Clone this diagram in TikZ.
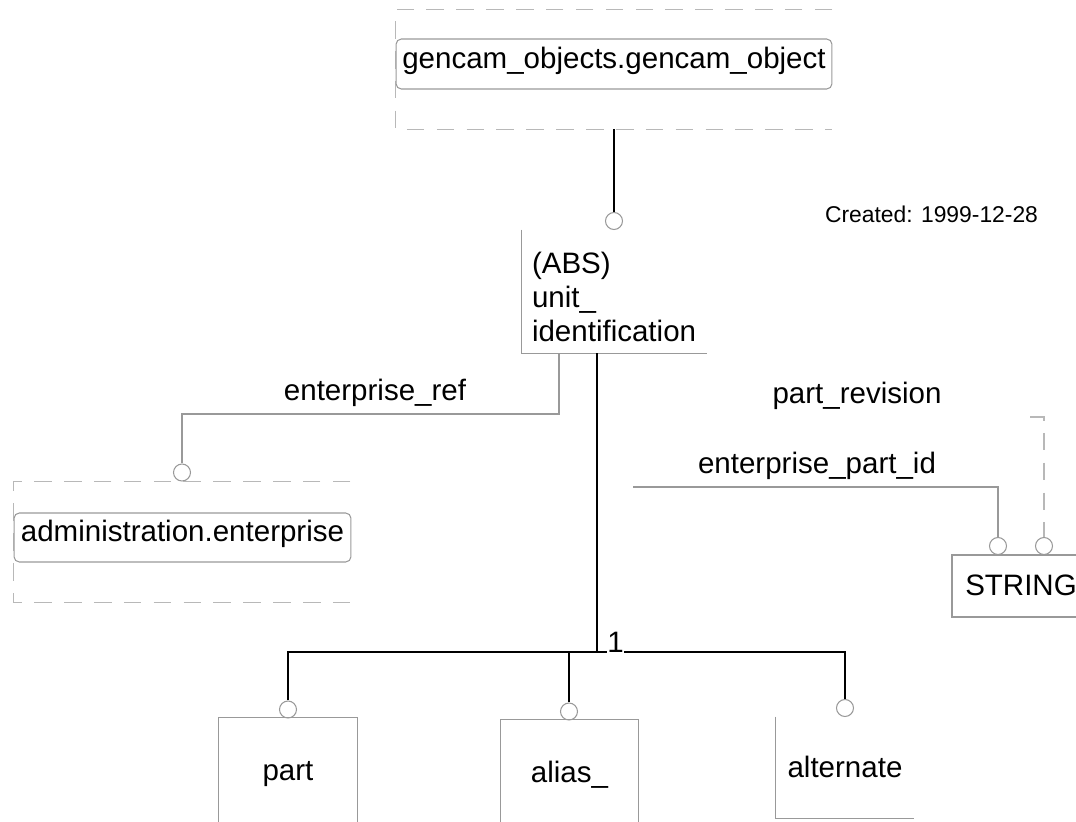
\documentclass[tikz,border=0pt]{standalone}
\usepackage{fontspec}
\setmainfont{Liberation Sans}
\usetikzlibrary{positioning}
\definecolor{linegray}{gray}{0.6}
\definecolor{framegray}{gray}{0.72}
\tikzset{
  lbl/.style={inner sep=0pt, font=\fontsize{16.8}{17.1}\selectfont},
  entity/.style={inner sep=0pt, font=\fontsize{16.8}{17.1}\selectfont, text height=0.5cm, text depth=0.12cm},
  schemabox/.style={draw=linegray, line width=0.6pt, rounded corners=3pt, inner sep=0pt,
    font=\fontsize{16.8}{17.1}\selectfont, text height=0.3cm, text depth=0.14cm},
  frame/.style={draw=framegray, line width=0.6pt, dash pattern=on 10pt off 7pt},
  ring/.style={circle, draw=linegray, line width=0.6pt, minimum size=0.34cm, inner sep=0pt},
  thin line/.style={draw=linegray, line width=0.6pt},
  thick line/.style={draw=black, line width=1.1pt}
}
\begin{document}
\begin{tikzpicture}[x=0.02cm,y=-0.02cm]
\useasboundingbox (0,0) rectangle (1076,822);

% supertype
\node (gframe) [minimum width=8.72cm, minimum height=2.38cm] at (614,69.5) {};
\draw[frame] (gframe.north east) -- (gframe.north west) -- (gframe.south west) -- (gframe.south east);
\node (gencam) [schemabox, minimum width=8.72cm, minimum height=1cm] at (614,64) {gencam\_objects.gencam\_object};
\node (created) [lbl, font=\fontsize{13}{15}\selectfont, anchor=base] at (931.5,222) {Created: 1999-12-28};

\node (uring) [ring] at (614,221) {};
\draw[thick line] (gframe.south) -- (uring.north);

\node (unit) [minimum width=3.7cm, minimum height=2.46cm] at (614.5,291.5) {};
\node (utext) [lbl, anchor=north west, align=left]
  at ([xshift=0.2cm, yshift=-0.44cm]unit.north west) {(ABS)\\[2.3pt]unit\_\\[2.3pt]identification};
\draw[thin line] (unit.north west) -- (unit.south west) -- (unit.south east);

% enterprise_ref
\coordinate (eref) at (559,353);
\node (ering) [ring] at (182,472.5) {};
\draw[thin line] (eref) -- (559,414) -| (ering.north);
\node (erefl) [lbl, anchor=base] at (375,400) {enterprise\_ref};

\node (aframe) [minimum width=6.72cm, minimum height=2.4cm] at (182,542) {};
\draw[frame] (aframe.north east) -- (aframe.north west) -- (aframe.south west) -- (aframe.south east);
\node (admin) [schemabox, minimum width=6.74cm, minimum height=0.98cm] at (182.5,537.5) {administration.enterprise};

% STRING attributes
\node (string) [entity, draw=linegray, line width=0.6pt, minimum width=2.76cm, minimum height=1.24cm] at (1021,586) {STRING};
\node (sring1) [ring] at (998,546) {};
\node (sring2) [ring] at (1044,546) {};
\coordinate (epid) at (633,487);
\draw[thin line] (epid) -| (sring1.north);
\node (epidl) [lbl, anchor=base] at (817,473) {enterprise\_part\_id};
\coordinate (prev) at (1030,417);
\draw[frame] (prev) -| (sring2.north);
\node (prevl) [lbl, anchor=base] at (857,403) {part\_revision};

% subtypes
\coordinate (ustem) at (597,353);
\coordinate (fork) at (597,652);
\node (one) [lbl, anchor=base] at (615.5,652) {1};
\node (pring) [ring] at (288,709.5) {};
\node (aring) [ring] at (569,711.5) {};
\node (tring) [ring] at (845,708) {};
\draw[thick line] (ustem) -- (fork);
\draw[thick line] (pring.north) |- (one.west |- fork);
\draw[thick line] (one.east |- fork) -| (tring.north);
\draw[thick line] (aring.north) -- (aring.north |- fork);

\node (part) [entity, minimum width=2.76cm, minimum height=2.1cm] at (288,770.5) {part};
\draw[thin line] (part.south west) -- (part.north west) -- (part.north east) -- (part.south east);
\node (alias) [entity, minimum width=2.76cm, minimum height=2.1cm] at (569.5,772.5) {alias\_};
\draw[thin line] (alias.south west) -- (alias.north west) -- (alias.north east) -- (alias.south east);
\node (alt) [entity, minimum width=2.76cm, minimum height=2.02cm] at (845,767.5) {alternate};
\draw[thin line] (alt.north west) -- (alt.south west) -- (alt.south east);
\end{tikzpicture}
\end{document}
